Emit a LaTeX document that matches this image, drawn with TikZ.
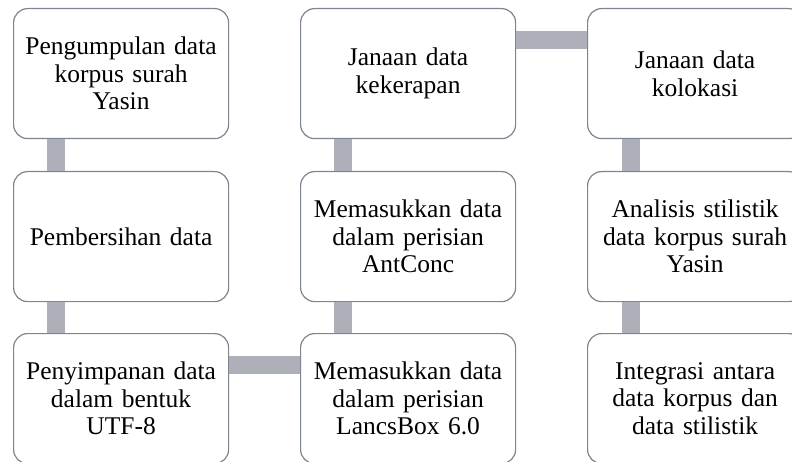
\documentclass[tikz,border=0pt]{standalone}
\usepackage{fontspec}
\setmainfont{Liberation Serif}
\begin{document}
\begin{tikzpicture}[x=1pt,y=-1pt,
  box/.style={draw={rgb,255:red,125;green,133;blue,145}, line width=1.2pt, fill=white,
    rounded corners=14pt, minimum width=215pt, minimum height=130pt, anchor=north west,
    inner sep=0pt, align=center, text width=205pt,
    font=\fontsize{25.5pt}{27.5pt}\selectfont},
  conn/.style={draw={rgb,255:red,173;green,176;blue,184}, line width=18pt}]
\useasboundingbox (0,0) rectangle (792,462);
\node[box] (a1) at (13,8) {Pengumpulan data\\korpus surah\\Yasin};
\node[box] (a2) at (13,171) {Pembersihan data};
\node[box] (a3) at (13,333) {Penyimpanan data\\dalam bentuk\\UTF-8};
\node[box] (b1) at (300,8) {Janaan data\\kekerapan};
\node[box] (b2) at (300,171) {Memasukkan data\\dalam perisian\\AntConc};
\node[box] (b3) at (300,333) {Memasukkan data\\dalam perisian\\LancsBox 6.0};
\node[box] (c1) at (587,8) {Janaan data\\kolokasi};
\node[box] (c2) at (587,171) {Analisis stilistik\\data korpus surah\\Yasin};
\node[box] (c3) at (587,333) {Integrasi antara\\data korpus dan\\data stilistik};
\begin{scope}[on background layer/.style={}]
\end{scope}
\path[conn] ([xshift=43pt]a1.south west) -- ([xshift=43pt]a2.north west);
\path[conn] ([xshift=43pt]a2.south west) -- ([xshift=43pt]a3.north west);
\path[conn] ([yshift=-32pt]a3.north east) -- ([yshift=-32pt]b3.north west);
\path[conn] ([xshift=43pt]b3.north west) -- ([xshift=43pt]b2.south west);
\path[conn] ([xshift=43pt]b2.north west) -- ([xshift=43pt]b1.south west);
\path[conn] ([yshift=-32pt]b1.north east) -- ([yshift=-32pt]c1.north west);
\path[conn] ([xshift=44pt]c1.south west) -- ([xshift=44pt]c2.north west);
\path[conn] ([xshift=44pt]c2.south west) -- ([xshift=44pt]c3.north west);
\end{tikzpicture}
\end{document}
